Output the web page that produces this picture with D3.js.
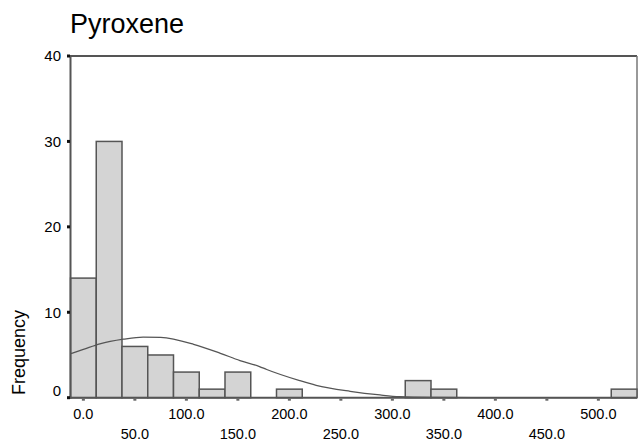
<!DOCTYPE html>
<html>
<head>
<meta charset="utf-8">
<script src="https://cdn.jsdelivr.net/npm/d3@7"></script>
<style>
  html, body { margin: 0; padding: 0; background: #fff; }
  svg { display: block; }
  text { font-family: "Liberation Sans", Arial, sans-serif; fill: #000; }
</style>
</head>
<body>
<svg id="chart" width="638" height="441"></svg>
<script>
// ---- data ----
const title = "Pyroxene";
const yLabel = "Frequency";
const binCenters = [0, 25, 50, 75, 100, 125, 150, 200, 325, 350, 525];
const binCounts  = [14, 30, 6, 5, 3, 1, 3, 1, 2, 1, 1];
const binWidth = 25;
const xTicks = [0, 50, 100, 150, 200, 250, 300, 350, 400, 450, 500];
const yTicks = [0, 10, 20, 30, 40];
// normal curve, points (value, frequency)
const curveX = [-12.5, 0, 16, 39, 58, 75, 107, 133, 152, 171, 178, 210, 226, 259, 288, 307, 340, 380, 537.5];
const curveY = [5.15, 5.65, 6.3, 6.85, 7.1, 7.05, 6.25, 5.2, 4.35, 3.65, 3.3, 2.0, 1.45, 0.75, 0.32, 0.12, 0.03, 0, 0];

// ---- layout ----
const svg = d3.select("#chart");
const pLeft = 70.5, pRight = 637, pTop = 56, pBottom = 397.7;

const x = d3.scaleLinear().domain([-12.5, 537.5]).range([pLeft, pRight]);
const y = d3.scaleLinear().domain([0, 40]).range([pBottom, pTop]);

// title
svg.append("text")
  .attr("x", 70).attr("y", 33)
  .style("font-size", "27px")
  .text(title);

// frame (top and right)
svg.append("line").attr("x1", pLeft).attr("x2", pRight).attr("y1", pTop).attr("y2", pTop)
  .attr("stroke", "#555").attr("stroke-width", 2);
svg.append("line").attr("x1", pRight).attr("x2", pRight).attr("y1", pTop).attr("y2", pBottom)
  .attr("stroke", "#777").attr("stroke-width", 1.5);

// bars
svg.append("g").selectAll("rect")
  .data(binCenters.map((c, i) => ({ c, n: binCounts[i] })))
  .join("rect")
  .attr("x", d => x(d.c - binWidth / 2))
  .attr("width", d => x(d.c + binWidth / 2) - x(d.c - binWidth / 2))
  .attr("y", d => y(d.n))
  .attr("height", d => y(0) - y(d.n))
  .attr("fill", "#d4d4d4")
  .attr("stroke", "#555")
  .attr("stroke-width", 1.5);

// normal curve
const line = d3.line()
  .x(d => x(d[0]))
  .y(d => y(d[1]))
  .curve(d3.curveMonotoneX);
svg.append("path")
  .datum(curveX.map((v, i) => [v, curveY[i]]))
  .attr("d", line)
  .attr("fill", "none")
  .attr("stroke", "#555")
  .attr("stroke-width", 1.3);

// left axis line
svg.append("line").attr("x1", pLeft).attr("x2", pLeft).attr("y1", pTop - 1).attr("y2", pBottom + 1)
  .attr("stroke", "#555").attr("stroke-width", 2);
// bottom axis line
svg.append("line").attr("x1", pLeft - 1).attr("x2", pRight).attr("y1", pBottom).attr("y2", pBottom)
  .attr("stroke", "#555").attr("stroke-width", 2);

// y ticks (small squares) + labels
const yAxis = svg.append("g");
yAxis.selectAll("rect.yt").data(yTicks).join("rect")
  .attr("class", "yt")
  .attr("x", pLeft - 3.5).attr("y", d => y(d) - 1.5)
  .attr("width", 3).attr("height", 3)
  .attr("fill", "#111");
yAxis.selectAll("text").data(yTicks).join("text")
  .attr("x", 61)
  .attr("y", d => (d === 0 ? y(d) - 7.5 : y(d)))
  .attr("dy", "0.36em")
  .attr("text-anchor", "end")
  .style("font-size", "15px")
  .text(d => d);

// x ticks + two-row labels
const fmt = d3.format(".1f");
const xAxis = svg.append("g");
xAxis.selectAll("rect").data(xTicks).join("rect")
  .attr("x", d => x(d) - 1.5).attr("y", pBottom + 1)
  .attr("width", 3).attr("height", 2)
  .attr("fill", "#666");
xAxis.selectAll("text").data(xTicks).join("text")
  .attr("x", d => x(d))
  .attr("y", (d, i) => (i % 2 === 0 ? 418.5 : 439))
  .attr("text-anchor", "middle")
  .style("font-size", "14.5px")
  .text(d => fmt(d));

// y axis title
svg.append("text")
  .attr("transform", "translate(25,352.5) rotate(-90)")
  .attr("text-anchor", "middle")
  .style("font-size", "18px")
  .text(yLabel);
</script>
</body>
</html>
